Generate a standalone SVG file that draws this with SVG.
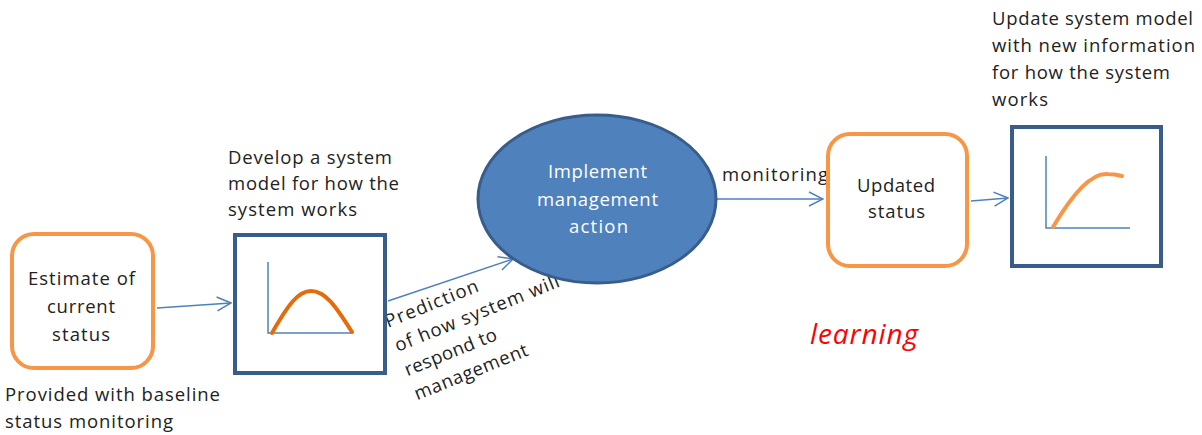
<svg xmlns="http://www.w3.org/2000/svg" width="1202" height="435" viewBox="0 0 1202 435">
<style>
.t{font-family:"Open Sans","Liberation Sans",sans-serif;font-size:18.5px;fill:#222}
.w{font-family:"Open Sans","Liberation Sans",sans-serif;font-size:18.5px;fill:#fff}
.orange{fill:#fff;stroke:#F79646;stroke-width:4}
.navy{fill:#fff;stroke:#385D8A;stroke-width:4}
.axis{fill:none;stroke:#4F81BD;stroke-width:1.5}
.curve{fill:none;stroke:#E46C0A;stroke-width:4;stroke-linecap:round}
.curve2{fill:none;stroke:#F79646;stroke-width:4;stroke-linecap:round}
.conn{fill:none;stroke:#4F81BD;stroke-width:1.5}
</style>
<defs>
<marker id="arr" viewBox="0 0 16 16" markerWidth="16" markerHeight="16" refX="15" refY="8" orient="auto" markerUnits="userSpaceOnUse">
<path d="M1,1 L15,8 L1,15" fill="none" stroke="#4F81BD" stroke-width="1.5"/>
</marker>
</defs>
<rect width="1202" height="435" fill="#fff"/>
<g id="connectors">
<line class="conn" x1="157" y1="308" x2="231" y2="303" marker-end="url(#arr)"/>
<line class="conn" x1="388" y1="301" x2="513" y2="259" marker-end="url(#arr)"/>
<line class="conn" x1="717" y1="199" x2="823" y2="199" marker-end="url(#arr)"/>
<line class="conn" x1="971" y1="201" x2="1008" y2="198" marker-end="url(#arr)"/>
<text class="t" x="722" y="181" textLength="106" lengthAdjust="spacing">monitoring</text>
<g transform="translate(388,328) rotate(-22)">
<text class="t" x="0" y="0" textLength="99" lengthAdjust="spacing">Prediction</text>
<text class="t" x="0" y="26" textLength="176" lengthAdjust="spacing">of how system will</text>
<text class="t" x="0" y="52" textLength="98" lengthAdjust="spacing">respond to</text>
<text class="t" x="0" y="78" textLength="121" lengthAdjust="spacing">management</text>
</g>
</g>
<g id="estimate">
<rect class="orange" x="12" y="234" width="141" height="134" rx="22"/>
<text class="t" x="28" y="285" textLength="107" lengthAdjust="spacing">Estimate of</text>
<text class="t" x="47" y="313" textLength="68" lengthAdjust="spacing">current</text>
<text class="t" x="52" y="341" textLength="58" lengthAdjust="spacing">status</text>
</g>
<g id="baseline-note">
<text class="t" x="5" y="401" textLength="215" lengthAdjust="spacing">Provided with baseline</text>
<text class="t" x="5" y="428" textLength="168" lengthAdjust="spacing">status monitoring</text>
</g>
<g id="system-model">
<text class="t" x="228" y="164" textLength="164" lengthAdjust="spacing">Develop a system</text>
<text class="t" x="228" y="190" textLength="171" lengthAdjust="spacing">model for how the</text>
<text class="t" x="228" y="216" textLength="129" lengthAdjust="spacing">system works</text>
<rect class="navy" x="235" y="235" width="150" height="138"/>
<path class="axis" d="M268,262 V333 H352"/>
<path class="curve" d="M272,333 C288,305 298,291 311,291 C325,291 335,305 352,332"/>
</g>
<g id="implement">
<ellipse cx="597" cy="199" rx="119" ry="84" fill="#4F81BD" stroke="#385D8A" stroke-width="3"/>
<text class="w" x="548" y="178" textLength="99" lengthAdjust="spacing">Implement</text>
<text class="w" x="537" y="206" textLength="121" lengthAdjust="spacing">management</text>
<text class="w" x="569" y="233" textLength="59" lengthAdjust="spacing">action</text>
</g>
<g id="updated">
<rect class="orange" x="828" y="134" width="139" height="132" rx="22"/>
<text class="t" x="857" y="192" textLength="78" lengthAdjust="spacing">Updated</text>
<text class="t" x="868" y="218" textLength="57" lengthAdjust="spacing">status</text>
</g>
<g id="updated-model">
<text class="t" x="992" y="25" textLength="201" lengthAdjust="spacing">Update system model</text>
<text class="t" x="992" y="52" textLength="203" lengthAdjust="spacing">with new information</text>
<text class="t" x="992" y="79" textLength="178" lengthAdjust="spacing">for how the system</text>
<text class="t" x="992" y="106" textLength="56" lengthAdjust="spacing">works</text>
<rect class="navy" x="1012" y="127" width="149" height="139"/>
<path class="axis" d="M1046,156 V228 H1130"/>
<path class="curve2" d="M1053,227 C1070,198 1090,172 1108,174 C1114,174 1118,175 1122,176"/>
</g>
<g id="learning">
<text x="810" y="344" font-family="'Open Sans','Liberation Sans',sans-serif" font-size="28" font-style="italic" fill="#FF0000" textLength="108" lengthAdjust="spacing">learning</text>
</g>
</svg>
